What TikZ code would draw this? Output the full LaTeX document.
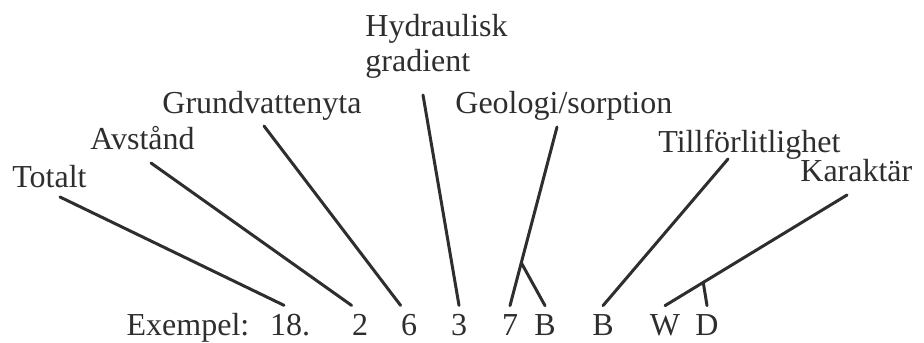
\documentclass[tikz,border=0pt]{standalone}
\usepackage{fontspec}
\setmainfont{Liberation Serif}
\definecolor{ink}{HTML}{2E2E2E}
\tikzset{
  lab/.style={anchor=base west, inner sep=0pt, text=ink, font=\fontsize{16}{19}\selectfont},
  code/.style={anchor=base, inner xsep=0pt, inner ysep=4pt, text=ink, font=\fontsize{16}{19}\selectfont},
  lead/.style={draw=ink, line width=1.5pt, line cap=round}
}
\begin{document}
\begin{tikzpicture}[x=0.5pt,y=-0.5pt]
\useasboundingbox (0,0) rectangle (924,342);
% labels
\node[lab] (lTot) at (12,187) {Totalt};
\node[lab] (lAvs) at (90,149) {Avstånd};
\node[lab] (lGru) at (162,113) {Grundvattenyta};
\node[lab] (lHyd) at (365,37) {Hydraulisk};
\node[lab] (lGrad) at ([yshift=-17.5pt]lHyd.base west) {gradient};
\node[lab] (lGeo) at (455,113) {Geologi/sorption};
\node[lab] (lTil) at (658,152) {Tillförlitlighet};
\node[lab] (lKar) at (800,181) {Karaktär};
% example code
\node[code] (nEx) at (188,335) {Exempel:};
\node[code] (n18) at (290,335) {18.};
\node[code] (n2) at (360,335) {2};
\node[code] (n6) at (409,335) {6};
\node[code] (n3) at (459,335) {3};
\node[code] (n7) at (510,335) {7};
\node[code] (nB1) at (545,335) {B};
\node[code] (nB2) at (603,335) {B};
\node[code] (nW) at (665,335) {W};
\node[code] (nD) at (707,335) {D};
% line tops
\coordinate (tTot) at (60,197);
\coordinate (tAvs) at (151,163);
\coordinate (tGru) at (264,126);
\coordinate (tHyd) at (423,95);
\coordinate (tGeo) at (557,127);
\coordinate (tTil) at (728,159);
\coordinate (tKar) at (847,195);
% leads
\draw[lead] (tTot) -- ([xshift=-3pt]n18.north);
\draw[lead] (tAvs) -- (n2.north west);
\draw[lead] (tGru) -- (n6.north west);
\draw[lead] (tHyd) -- (n3.north);
\draw[lead] (tGeo) -- (n7.north) coordinate[pos=0.76] (jGeo);
\draw[lead] (jGeo) -- (nB1.north);
\draw[lead] (tTil) -- (nB2.north);
\draw[lead] (tKar) -- (nW.north) coordinate[pos=0.79] (jKar);
\draw[lead] (jKar) -- (nD.north);
\end{tikzpicture}
\end{document}
